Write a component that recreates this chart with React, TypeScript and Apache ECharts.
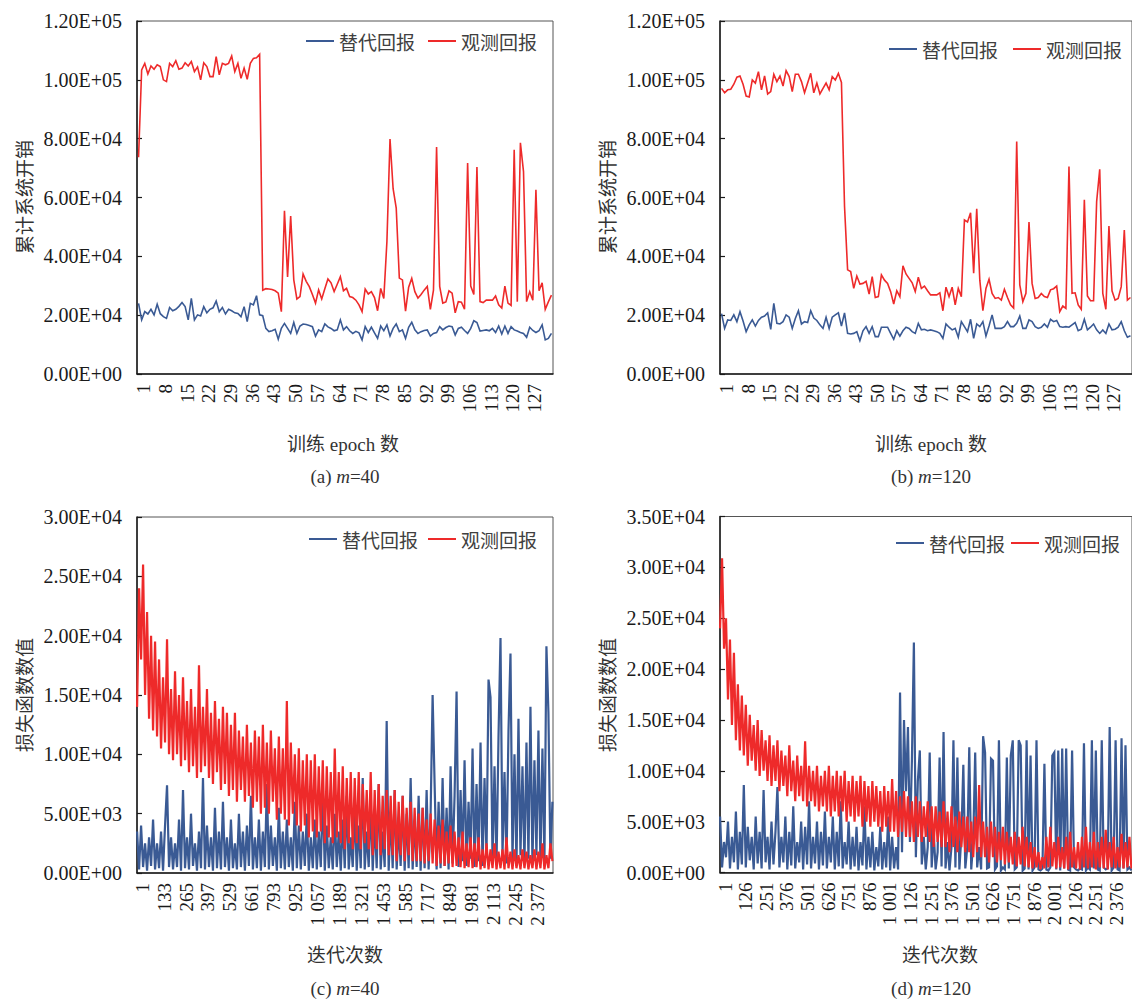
import React, { useEffect, useRef } from "react";
import * as echarts from "echarts";

// ---------- data ----------
const EPOCH_COUNT = 134;
const ITER_COUNT = 2500;
const ITER_STEP = 12; // sampled every 12 iterations

const epochCategories = Array.from({ length: EPOCH_COUNT }, (_, i) => String(i + 1));
const iterCategories = Array.from({ length: ITER_COUNT }, (_, i) => String(i + 1));

const seriesNames = ["替代回报", "观测回报"];

// (a) m=40, cumulative system overhead per epoch
const aSurrogate = [
  24000, 18400, 21200, 20400, 22000, 20100, 23700, 20500, 19500, 18900,
  22600, 21500, 22000, 23000, 24300, 22900, 18400, 25700, 18400, 20100,
  19700, 22900, 20800, 22000, 22500, 24800, 21200, 22600, 20400, 22000,
  21500, 20800, 20600, 19500, 22900, 17800, 24000, 23500, 26600, 20100,
  19800, 15500, 14400, 14700, 15200, 11800, 15500, 17200, 15500, 13800,
  17500, 13800, 16300, 17000, 16800, 16500, 16100, 12900, 15000, 14400,
  17000, 16000, 15500, 14700, 15000, 18400, 15000, 16100, 14700, 13800,
  14500, 14000, 11600, 16100, 14100, 15900, 14000, 12100, 16300, 14700,
  16700, 12900, 15500, 17000, 14400, 15000, 12100, 15900, 17600, 15000,
  13800, 14400, 14800, 15000, 12900, 13800, 14100, 16100, 15000, 15800,
  16300, 16100, 13300, 15500, 15900, 14800, 13800, 15500, 18100, 17500,
  14600, 14800, 15000, 14700, 15500, 14100, 16300, 13600, 16300, 13800,
  16100, 15000, 14600, 14100, 13800, 12500, 15900, 14800, 14100, 14700,
  16700, 11600, 12100, 13800,
];
const aObserved = [
  73700, 103400, 105600, 102000, 104700, 103600, 105100, 104500, 100000, 99400,
  105600, 104500, 106500, 103600, 104000, 105800, 104700, 106200, 102800, 104400,
  100000, 105800, 104500, 101100, 101100, 107900, 101700, 105600, 105100, 105600,
  108100, 102800, 105600, 100500, 104000, 100200, 105600, 107300, 107500, 108700,
  28500, 29000, 28900, 28700, 28300, 27500, 21200, 55500, 33000, 53700,
  32000, 25500, 26300, 34000, 31500, 29700, 27000, 24100, 28600, 25500,
  29000, 32300, 31000, 28000, 30500, 33100, 28300, 29100, 26300, 26000,
  25100, 23500, 21200, 28900, 27200, 28000, 26000, 21500, 29100, 25700,
  45000, 79900, 63000, 56400, 32600, 32000, 21400, 29500, 32500, 28000,
  25800, 27000, 28500, 29800, 22000, 28500, 77200, 29800, 24100, 24500,
  28300, 27500, 20800, 24600, 24400, 22000, 71700, 29900, 27000, 70400,
  24600, 24300, 25100, 25100, 25100, 26500, 23500, 22400, 29900, 24100,
  23300, 76200, 24600, 78600, 68800, 24600, 28000, 25100, 62600, 28300,
  31000, 22000, 24500, 26800,
];

// (b) m=120
const bSurrogate = [
  20500, 15500, 18400, 18200, 20100, 17800, 21200, 18000, 14400, 16700,
  18400, 16300, 18200, 19300, 19700, 20800, 15200, 24000, 17200, 17000,
  17800, 20100, 19300, 15500, 18900, 21500, 17000, 17800, 17500, 21500,
  19000, 18200, 16700, 15500, 19300, 15500, 19300, 20100, 20800, 16300,
  20800, 13800, 13600, 13800, 14400, 11300, 14700, 16100, 13800, 16100,
  12700, 12700, 15900, 15900, 15900, 13800, 11800, 14700, 12900, 14700,
  15900, 15500, 14400, 13800, 17200, 15000, 15200, 14700, 15000, 14700,
  14400, 13800, 12100, 17000, 15900, 15000, 15500, 12500, 17800, 16100,
  14400, 18600, 12100, 17000, 16100, 17800, 12900, 16300, 20100, 15500,
  15500, 15500, 16100, 17800, 16100, 16100, 17200, 19700, 15500, 15500,
  18400, 17800, 16100, 15500, 15900, 17000, 15900, 18600, 17800, 18200,
  16100, 15900, 16100, 15900, 16700, 17500, 14700, 15200, 18600, 15000,
  15900, 17000, 15000, 13800, 15000, 13800, 17000, 15000, 15200, 15900,
  17800, 14700, 12500, 13000,
];
const bObserved = [
  97100, 95600, 96600, 96800, 98500, 100900, 101300, 98500, 94500, 94200,
  100000, 98900, 102800, 96600, 101300, 95200, 96000, 101900, 99400, 101300,
  97900, 103100, 101100, 96000, 101900, 101900, 99400, 95600, 98900, 102200,
  95600, 98900, 95200, 97100, 98900, 96600, 101100, 99900, 102200, 99100,
  57000, 35400, 34800, 29100, 33300, 30600, 30800, 31500, 27200, 33100,
  26000, 26300, 33700, 31900, 30800, 28000, 23800, 28300, 26300, 36800,
  34000, 32500, 31000, 28000, 32900, 29100, 29900, 28300, 26900, 26900,
  26900, 27600, 21500, 29500, 26300, 29500, 23500, 29100, 26300, 52400,
  51700, 54800, 34300, 56200, 31900, 21500, 29100, 32200, 27400, 25700,
  26000, 25100, 28800, 26000, 23500, 22400, 79000, 30300, 24600, 27400,
  51700, 30800, 25700, 26000, 27400, 26300, 26000, 28600, 29000, 29900,
  21200, 23100, 22300, 70500, 27400, 27600, 23500, 22000, 59200, 26500,
  24900, 24900, 58600, 69600, 27400, 22000, 50300, 28300, 25100, 25700,
  29700, 48900, 25100, 26000,
];

// (c) m=40, loss per iteration (one value every ITER_STEP iterations)
const cSurrogate = [
  3500, 300, 4000, 500, 2500, 200, 3000, 600, 4500, 300,
  2500, 400, 3500, 200, 4000, 7400, 500, 3000, 300, 2500,
  500, 4500, 200, 7000, 400, 3000, 300, 5000, 600, 2500,
  200, 3500, 400, 8000, 300, 4000, 500, 3000, 200, 5500,
  400, 3500, 300, 6000, 500, 3000, 200, 4500, 400, 2500,
  300, 5000, 500, 3500, 200, 4000, 600, 6500, 300, 3000,
  400, 4500, 200, 3500, 500, 7500, 300, 4000, 600, 3000,
  200, 5500, 400, 3500, 300, 4500, 500, 3000, 200, 6000,
  400, 4000, 300, 3500, 600, 5000, 200, 3000, 400, 4500,
  300, 3500, 500, 7000, 200, 4000, 400, 3000, 300, 5000,
  500, 3500, 200, 4500, 400, 6500, 300, 3000, 500, 5500,
  200, 4000, 400, 8000, 300, 3500, 500, 6000, 200, 4500,
  400, 7500, 300, 3500, 500, 12800, 200, 5000, 400, 7000,
  300, 4000, 600, 6500, 200, 5000, 400, 8000, 300, 4500,
  500, 6500, 200, 5500, 400, 7000, 300, 5000, 15000, 7500,
  300, 6000, 400, 8000, 600, 5500, 300, 9000, 800, 6500,
  15300, 500, 7000, 1000, 9500, 600, 6000, 1200, 10500, 500,
  7500, 1000, 11000, 600, 8000, 1500, 16300, 14800, 1000, 9000,
  700, 11500, 19800, 1500, 8500, 800, 12000, 18500, 1000, 10000,
  600, 13000, 1500, 9000, 800, 11000, 1200, 14000, 700, 9500,
  1500, 12000, 800, 10500, 1000, 19100, 13500, 1200, 6000,
];
const cObserved = [
  14000, 24000, 18000, 26000, 15000, 22000, 13000, 20000, 12000, 19500,
  11500, 18000, 10500, 16500, 11000, 19700, 10000, 15500, 9500, 17000,
  10000, 15000, 9000, 16500, 9500, 14500, 8500, 15500, 9000, 14000,
  8000, 17500, 8500, 14000, 9000, 15500, 8000, 13500, 7500, 14500,
  8500, 13000, 7000, 14000, 7500, 13500, 6500, 12500, 7000, 13500,
  6000, 12000, 7000, 11500, 6000, 12500, 6500, 11000, 5500, 12000,
  6000, 11500, 5000, 12500, 5500, 11000, 5000, 12000, 6000, 10500,
  4500, 11500, 5000, 10500, 4500, 14500, 4000, 11000, 5000, 10000,
  4000, 10500, 3500, 9500, 4000, 10000, 3000, 9500, 3500, 10000,
  3000, 9000, 3500, 9500, 2500, 9000, 3000, 8500, 2500, 10500,
  3000, 8500, 2500, 9000, 2000, 8000, 2500, 8500, 2000, 8000,
  2500, 8500, 2000, 7500, 2500, 7000, 2000, 8500, 1500, 7000,
  2000, 7500, 1500, 6500, 2000, 7000, 1500, 6500, 1500, 7000,
  1000, 6000, 1500, 6500, 1000, 5500, 1500, 6000, 1000, 5500,
  1000, 5000, 1000, 5500, 800, 4500, 1000, 5000, 800, 4500,
  600, 4000, 800, 4500, 600, 3500, 800, 4000, 500, 3500,
  600, 3000, 500, 3500, 400, 2500, 500, 3000, 400, 2500,
  500, 3000, 300, 2000, 400, 2500, 300, 2000, 400, 2500,
  300, 1800, 400, 2000, 300, 3000, 400, 1800, 300, 2000,
  400, 1500, 300, 2000, 400, 1800, 300, 1500, 400, 2000,
  300, 1800, 400, 2500, 300, 1500, 400, 2500, 1000,
];

// (d) m=120
const dSurrogate = [
  5500, 500, 3000, 1500, 5000, 400, 3500, 1000, 6000, 300,
  4000, 800, 8600, 500, 4500, 1200, 3500, 300, 5500, 900,
  4000, 400, 8100, 1000, 3500, 300, 5000, 800, 4000, 8400,
  500, 3500, 1000, 5500, 300, 4000, 700, 6500, 400, 3000,
  1000, 5000, 300, 4500, 800, 7000, 400, 3500, 900, 5000,
  300, 4000, 700, 6000, 400, 3500, 1000, 5500, 300, 4000,
  600, 7000, 400, 3000, 800, 5000, 300, 3500, 600, 4500,
  200, 3000, 700, 6500, 300, 3500, 500, 4000, 200, 2500,
  600, 4500, 300, 3000, 500, 5500, 200, 3500, 400, 2500,
  300, 17700, 2000, 15000, 8000, 14300, 3000, 11000, 22600, 1500,
  9000, 12000, 800, 3500, 300, 2500, 11800, 500, 4000, 300,
  2000, 11300, 600, 13800, 400, 3000, 200, 2500, 13000, 500,
  11300, 300, 3500, 10600, 400, 2500, 12300, 300, 3000, 11800,
  500, 2500, 300, 13400, 11800, 400, 500, 11200, 11000, 300,
  600, 13000, 200, 500, 300, 11300, 400, 11500, 13000, 300,
  500, 13000, 12500, 200, 400, 13000, 300, 11500, 200, 500,
  13000, 300, 200, 400, 10700, 300, 200, 500, 11500, 11800,
  300, 12000, 200, 12200, 400, 12200, 300, 200, 12000, 500,
  300, 200, 400, 300, 12700, 200, 500, 300, 13000, 400,
  12000, 300, 200, 13000, 500, 300, 400, 14300, 200, 500,
  13000, 300, 200, 13200, 400, 12500, 300, 500, 200,
];
const dObserved = [
  24000, 30900, 22000, 25000, 17000, 22900, 14500, 21600, 13000, 18500,
  12000, 17400, 11500, 16500, 10500, 15500, 11000, 14500, 10000, 15000,
  9500, 14000, 10000, 13000, 9000, 13500, 8500, 12500, 9000, 13000,
  8000, 12000, 8500, 11500, 7500, 12500, 8000, 11000, 7000, 11500,
  7500, 10500, 7000, 12900, 6500, 10500, 7000, 10000, 6500, 10500,
  6000, 9500, 6500, 10000, 6000, 10500, 5500, 9500, 6000, 10000,
  5500, 9500, 6000, 10000, 5000, 9000, 5500, 9500, 5000, 9000,
  5500, 9500, 4500, 9000, 5000, 8500, 4500, 9000, 5000, 8500,
  4500, 8000, 4000, 8500, 4500, 8000, 4000, 9200, 4000, 8000,
  3500, 7500, 4000, 8000, 3500, 7500, 3500, 7000, 3000, 7500,
  3500, 7000, 3000, 6500, 3500, 7000, 3000, 6500, 2500, 6500,
  3000, 6000, 2500, 7000, 2500, 6000, 2000, 6500, 2500, 5500,
  2000, 6000, 2500, 5500, 2000, 5500, 2000, 5000, 1500, 5500,
  2000, 8600, 1500, 5000, 1500, 4500, 1000, 5000, 1500, 4500,
  1000, 4000, 1200, 4500, 800, 4000, 1000, 3500, 800, 4000,
  600, 3500, 800, 4500, 600, 3500, 500, 3000, 400, 2500,
  500, 2000, 300, 1500, 400, 3500, 500, 4500, 600, 3000,
  400, 3500, 500, 2500, 400, 3500, 300, 4000, 500, 2500,
  400, 3000, 300, 3500, 500, 4500, 400, 3000, 500, 4000,
  300, 3000, 500, 3500, 400, 4200, 300, 3000, 500, 3500,
  400, 2500, 500, 3800, 400, 3000, 500, 3500, 400,
];

// ---------- styles ----------
const BLUE = "#3a5a94";
const RED = "#ee2a2a";
const AXIS = "#1a1a1a";
const SERIF = '"Liberation Serif", "Times New Roman", serif';
const CJK = '"Noto Sans CJK SC", sans-serif';
const MIXED = '"Liberation Serif", "Noto Sans CJK SC", serif';

const fmtSci = (v: number) => {
  const [m, e] = v.toExponential(2).split("e");
  const sign = e[0] === "-" ? "-" : "+";
  const digits = e.replace(/[+-]/, "").padStart(2, "0");
  return `${m}E${sign}${digits}`;
};
const fmtIter = (s: string) => {
  const n = Number(s);
  return n >= 1000 ? `${Math.floor(n / 1000)} ${String(n % 1000).padStart(3, "0")}` : s;
};

const withIter = (vals: number[]) => vals.map((v, k) => [k * ITER_STEP, v]);

const gridBoxes = [
  { left: 137, top: 21, width: 416, height: 353 },
  { left: 720, top: 21, width: 416, height: 353 },
  { left: 137, top: 517, width: 416, height: 356 },
  { left: 720, top: 516.5, width: 416, height: 356 },
];
const yMax = [120000, 120000, 30000, 35000];
const yInterval = [20000, 20000, 5000, 5000];
const legendPos = [
  { right: 590, top: 26, gap: 13 },
  { right: 5, top: 34, gap: 15 },
  { right: 590, top: 524, gap: 10 },
  { right: 7, top: 528, gap: 6 },
];

function buildOption(): echarts.EChartsOption {
  const xAxis: any[] = [0, 1, 2, 3].map((g) => {
    const isEpoch = g < 2;
    return {
      type: "category",
      gridIndex: g,
      data: isEpoch ? epochCategories : iterCategories,
      boundaryGap: true,
      axisLine: { show: true, lineStyle: { color: AXIS, width: 1.5 } },
      axisTick: { show: false },
      splitLine: { show: false },
      axisLabel: {
        rotate: 90,
        margin: 10,
        verticalAlign: "top",
        lineHeight: 10,
        interval: isEpoch
          ? (idx: number) => idx % 7 === 0 && idx < 133
          : g === 2
          ? 131
          : 124,
        formatter: isEpoch ? undefined : fmtIter,
        fontFamily: SERIF,
        fontSize: 19,
        color: AXIS,
      },
    };
  });
  const yAxis: any[] = [0, 1, 2, 3].map((g) => ({
    type: "value",
    gridIndex: g,
    min: 0,
    max: yMax[g],
    interval: yInterval[g],
    axisLine: { show: true, lineStyle: { color: AXIS, width: 1.5 } },
    axisTick: { show: true, inside: true, length: 5, lineStyle: { color: AXIS, width: 1.2 } },
    splitLine: { show: false },
    axisLabel: { formatter: fmtSci, margin: 15, fontFamily: SERIF, fontSize: 20, color: AXIS },
  }));
  const grid: any[] = gridBoxes.map((b) => ({
    ...b,
    show: true,
    borderColor: "#555",
    borderWidth: 1,
    backgroundColor: "transparent",
  }));
  const seriesData = [
    [aSurrogate, aObserved],
    [bSurrogate, bObserved],
    [withIter(cSurrogate), withIter(cObserved)],
    [withIter(dSurrogate), withIter(dObserved)],
  ];
  const series: any[] = [];
  seriesData.forEach((pair, g) => {
    const w = g < 2 ? 1.6 : 2.2;
    series.push({
      type: "line",
      name: seriesNames[0],
      xAxisIndex: g,
      yAxisIndex: g,
      data: pair[0],
      symbol: "none",
      lineStyle: { color: BLUE, width: w, join: "miter" },
      itemStyle: { color: BLUE },
      z: 2,
    });
    series.push({
      type: "line",
      name: seriesNames[1],
      xAxisIndex: g,
      yAxisIndex: g,
      data: pair[1],
      symbol: "none",
      lineStyle: { color: RED, width: w, join: "miter" },
      itemStyle: { color: RED },
      z: 3,
    });
  });
  const legend: any[] = legendPos.map((p) => ({
    data: seriesNames,
    right: p.right,
    top: p.top,
    icon: "rect",
    itemWidth: 28,
    itemHeight: 2,
    itemGap: p.gap,
    selectedMode: false,
    textStyle: { fontFamily: CJK, fontSize: 19, color: "#404040", lineHeight: 20, padding: 0 },
  }));

  const txt = (x: number, y: number, text: string, font: string, rot = 0, rich?: any) => ({
    type: "text",
    x,
    y,
    rotation: rot,
    style: {
      text,
      fontFamily: font,
      fontSize: 19,
      fill: "#333",
      align: "center",
      verticalAlign: "middle",
      rich,
    },
  });
  const italic = { i: { fontStyle: "italic", fontFamily: SERIF, fontSize: 19, fill: "#333" } };
  const graphic: any[] = [
    txt(23, 197, "累计系统开销", CJK, Math.PI / 2),
    txt(606, 197, "累计系统开销", CJK, Math.PI / 2),
    txt(23, 695, "损失函数数值", CJK, Math.PI / 2),
    txt(606, 695, "损失函数数值", CJK, Math.PI / 2),
    txt(343, 444, "训练 epoch 数", MIXED),
    txt(931, 444, "训练 epoch 数", MIXED),
    txt(345, 953, "迭代次数", CJK),
    txt(940, 953, "迭代次数", CJK),
    txt(345, 476, "(a) {i|m}=40", SERIF, 0, italic),
    txt(931, 476, "(b) {i|m}=120", SERIF, 0, italic),
    txt(345, 988, "(c) {i|m}=40", SERIF, 0, italic),
    txt(931, 988, "(d) {i|m}=120", SERIF, 0, italic),
  ];

  return {
    animation: false,
    backgroundColor: "#ffffff",
    grid,
    xAxis,
    yAxis,
    series,
    legend,
    graphic,
  } as any;
}

export default function App() {
  const ref = useRef<HTMLDivElement>(null);
  useEffect(() => {
    if (!ref.current) return;
    const chart = echarts.init(ref.current, undefined, { renderer: "svg" });
    chart.setOption(buildOption());
    return () => chart.dispose();
  }, []);
  return (
    <div
      ref={ref}
      style={{ position: "absolute", left: 0, top: 0, width: 1132, height: 1001, background: "#fff" }}
    />
  );
}
